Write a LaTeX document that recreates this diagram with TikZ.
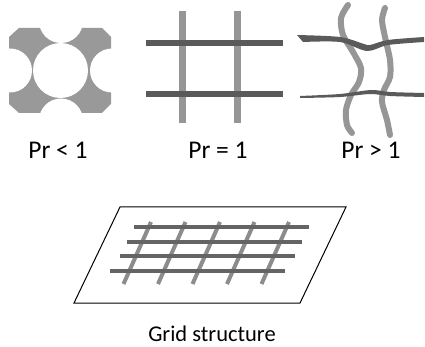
\documentclass[tikz,border=0pt]{standalone}
\usepackage{fontspec}
\setmainfont{Carlito}
\begin{document}
\begin{tikzpicture}[x=1pt,y=-1pt,
  label/.style={inner sep=0pt,anchor=base,font=\fontsize{25.5}{30}\selectfont},
  caption/.style={inner sep=0pt,anchor=base,font=\fontsize{22.5}{27}\selectfont},
  fibrelight/.style={draw=fibreL,line width=#1},
  fibredark/.style={draw=fibreD,line width=#1}]
\definecolor{fibreL}{RGB}{150,150,150}
\definecolor{fibreD}{RGB}{90,90,90}
\definecolor{solidG}{RGB}{153,153,153}
\definecolor{gridL}{RGB}{140,140,140}
\definecolor{gridD}{RGB}{100,100,100}
\useasboundingbox[fill=white] (0,0) rectangle (425,347);

% Pr < 1 : solid cell with bites and a round pore
\fill[solidG] (9,37) -- (19,28) -- (102,28) -- (111,37) -- (111,104) -- (102,113)
  -- (19,113) -- (9,104) -- cycle;
\fill[white] (61,21) circle (22);
\fill[white] (61,120.5) circle (22);
\fill[white] (10,70.5) circle (22);
\fill[white] (112,70.5) circle (22);
\fill[white] (60.5,70.5) circle (27.5);

% Pr = 1 : straight crossing fibres
\draw[fibrelight=7] (182,11) -- (182,123);
\draw[fibrelight=7] (237,11) -- (237,123);
\draw[fibredark=6] (146,43) -- (283,43);
\draw[fibredark=6] (146,94) -- (283,94);

% Pr > 1 : wavy fibres
\draw[fibrelight=6,line cap=round] plot[smooth] coordinates
  {(348,5) (341,18) (343,35) (353,52) (361,68) (359,82) (351,95) (346,110) (347,125) (352,133)};
\draw[fibrelight=6,line cap=round] plot[smooth] coordinates
  {(385,8) (382,20) (385,37) (390,60) (390,77) (384,90) (382,102) (387,120) (390,135)};
\fill[fibreD] plot[smooth] coordinates
  {(297,35) (340,37) (364,44) (370,45) (388,40) (424,37)}
  -- plot[smooth] coordinates {(424,42) (388,45) (367,51) (340,42) (303,42)} -- cycle;
\fill[fibreD] plot[smooth] coordinates
  {(300,96) (340,94) (371,90) (390,92) (424,93)}
  -- plot[smooth] coordinates {(424,97) (390,96) (370,94) (340,97) (300,98)} -- cycle;

% labels
\node[label] (lt) at (58,159) {Pr < 1};
\node[label] (eq) at (218,159) {Pr = 1};
\node[label] (gt) at (371,159) {Pr > 1};

% grid structure on a plane
\draw[black,line width=1] (120,207) -- (346,207) -- (300,303) -- (74,303) -- cycle;
\foreach \i in {0,...,4}{
  \draw[draw=gridL,line width=4] (151+34.5*\i,222) -- (123.5+34.5*\i,284);
}
\draw[draw=gridD,line width=4] (134,227) -- (309,227);
\draw[draw=gridD,line width=4] (127,242) -- (302,242);
\draw[draw=gridD,line width=4] (120,256) -- (295,256);
\draw[draw=gridD,line width=4] (110,271) -- (285,271);
\node[caption] (gs) at (212,341) {Grid structure};
\end{tikzpicture}
\end{document}
